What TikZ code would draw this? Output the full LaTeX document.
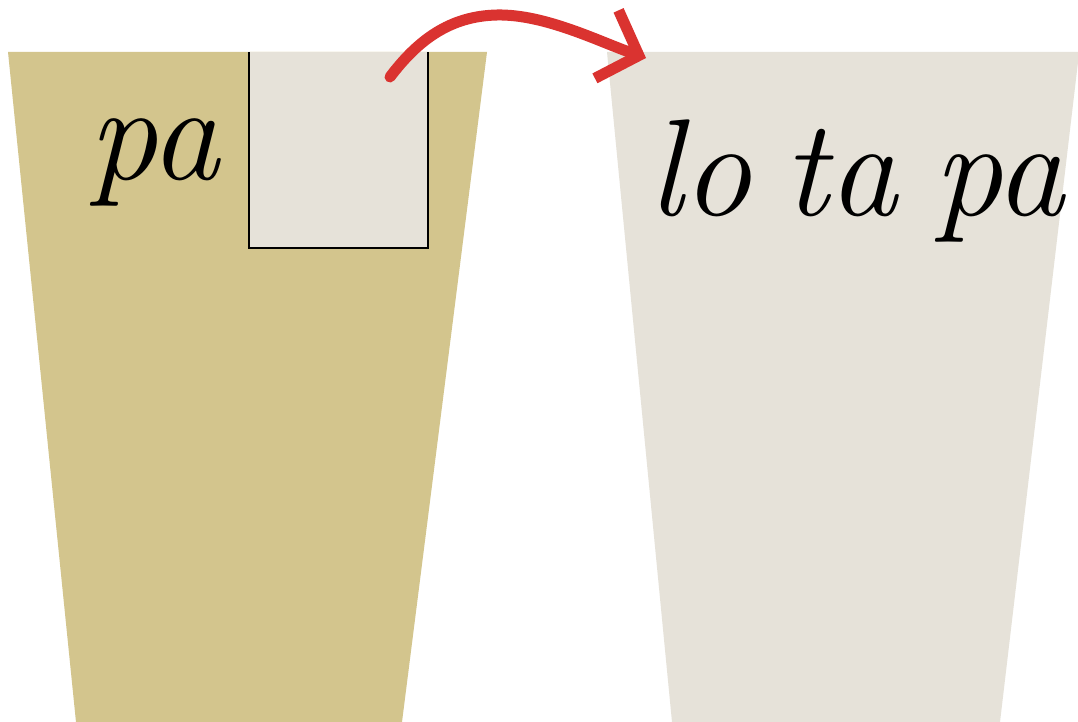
\documentclass[tikz,border=0pt]{standalone}
\usetikzlibrary{arrows.meta}
\definecolor{tan}{HTML}{D3C58D}
\definecolor{paper}{HTML}{E6E2D9}
\definecolor{arrowred}{HTML}{DA3330}
\begin{document}
\begin{tikzpicture}[x=1pt,y=-1pt,
  word/.style={anchor=base west,inner sep=0pt,font=\itshape\fontsize{138}{138}\selectfont}]
\useasboundingbox (0,0) rectangle (1078,722);
\fill[white] (0,0) rectangle (1078,722);
% left cup
\fill[tan] (8,52) -- (487,52) -- (402,722) -- (76,722) -- cycle;
% right cup
\fill[paper] (607,52) -- (1078,52) -- (1078,62) -- (1000,722) -- (672,722) -- cycle;
% slot
\fill[paper] (249,52) rectangle (428,248);
\draw[line width=1.6pt] (249,52) -- (249,248) -- (428,248) -- (428,52);
% texts
\node[word] (pa1) at (88,180) {pa};
\node[word] (lo) at (648,215) {lo};
\node[word] (ta) at (783,215) {ta};
\node[word] (pa2) at (933,215) {pa};
% arrow
\coordinate (s) at (390,77);
\coordinate (m) at (497,15);
\coordinate (e) at (646,58);
\draw[arrowred,line width=11pt,line cap=round,-{Straight Barb[length=34pt,width=72pt]}]
  (s) .. controls (418,40) and (450,16) .. (m) .. controls (545,14) and (600,42) .. (e);
\end{tikzpicture}
\end{document}
